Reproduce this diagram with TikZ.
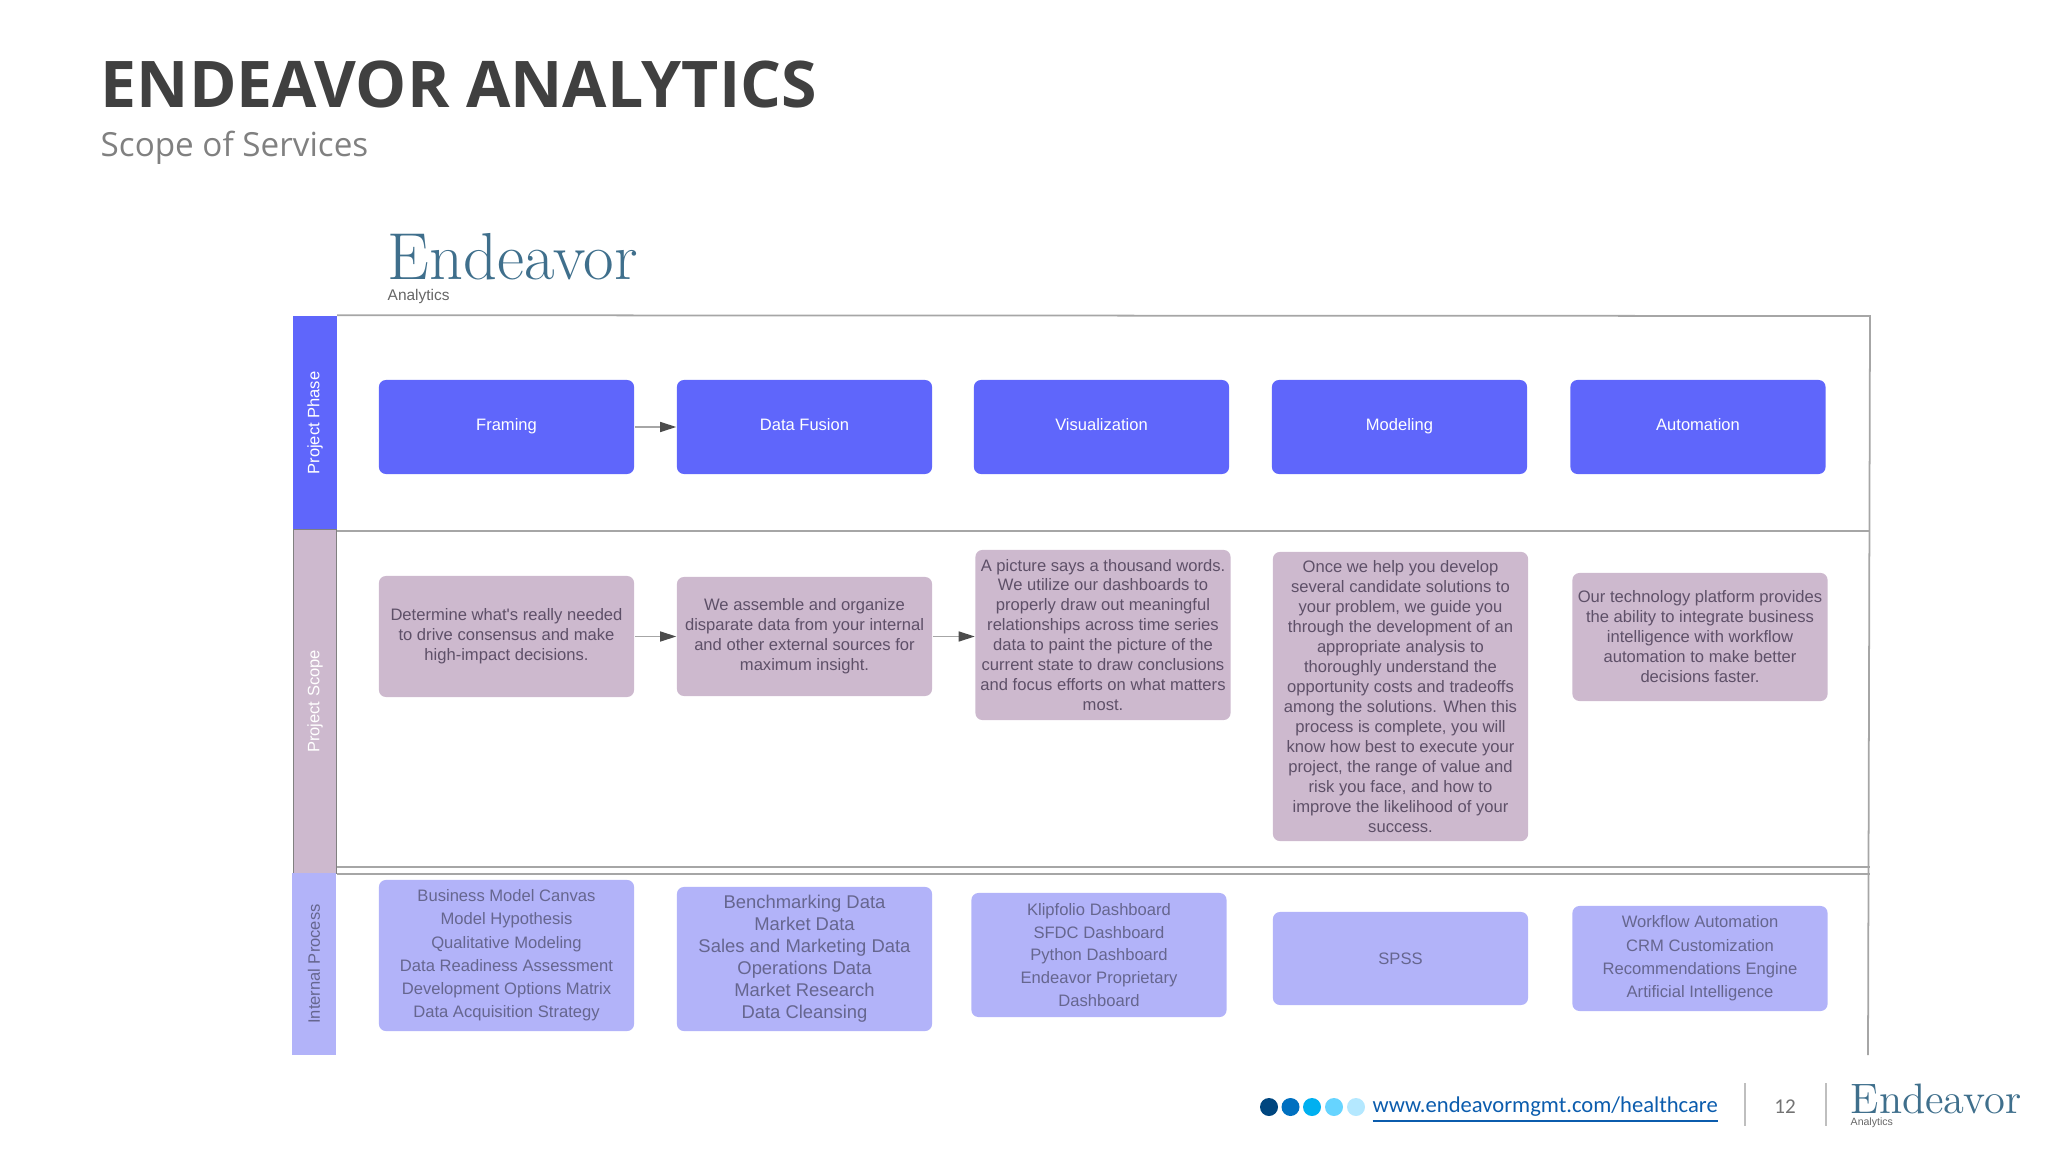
\documentclass[tikz,border=0pt]{standalone}
\usepackage{fontspec}
\usepackage{xcolor}
\usetikzlibrary{arrows.meta, positioning, calc}
\newfontfamily\bodyfont{Liberation Sans}
\newfontfamily\headfont{Open Sans}
\newfontfamily\footfont{Carlito}
\definecolor{phaseblue}{HTML}{5F66FB}
\definecolor{scopemauve}{HTML}{CDB9CE}
\definecolor{processblue}{HTML}{B2B3F9}
\definecolor{scopetext}{HTML}{5E5068}
\definecolor{processtext}{HTML}{66668F}
\definecolor{framegray}{HTML}{A6A6A6}
\definecolor{logoblue}{HTML}{3F6F8C}
\definecolor{linkblue}{HTML}{0B5CAD}
\definecolor{dotone}{HTML}{00467F}
\definecolor{dottwo}{HTML}{0070C0}
\definecolor{dotthree}{HTML}{00B0F0}
\definecolor{dotfour}{HTML}{66D4FF}
\definecolor{dotfive}{HTML}{B4E8FF}

\begin{document}
\begin{tikzpicture}[x=0.01cm, y=-0.01cm,
    lane/.style={rectangle, rotate=90, minimum height=0.43cm, inner sep=0pt, font=\bodyfont\fontsize{4.7}{5.6}\selectfont},
    box/.style={rectangle, rounded corners=0.07cm, inner sep=0pt, align=center, minimum width=2.55cm},
    phasebox/.style={box, fill=phaseblue, text=white, text height=1.5ex, text depth=1ex, font=\bodyfont\fontsize{4.7}{5.7}\selectfont},
    scopebox/.style={box, fill=scopemauve, text=scopetext, execute at end node=\vspace{1.6pt}, font=\bodyfont\fontsize{4.72}{5.68}\selectfont},
    processbox/.style={box, fill=processblue, text=processtext, font=\bodyfont\fontsize{4.72}{6.6}\selectfont},
    flow/.style={-{Triangle[length=0.16cm, width=0.1cm, color=black!70]}, framegray, line width=0.4pt},
    rule/.style={framegray, line width=0.5pt},
    dot/.style={circle, minimum size=0.18cm, inner sep=0pt},
    divider/.style={black!25, line width=0.3pt},
]
\useasboundingbox (0,0) rectangle (2048,1152);

\node[anchor=base west, inner sep=0pt, text=black!75, font=\headfont\bfseries\fontsize{18.3}{22}\selectfont] (title) at (100,108) {ENDEAVOR ANALYTICS};
\node[anchor=base west, inner sep=0pt, text=black!50, font=\headfont\fontsize{9.45}{12}\selectfont] (subtitle) at (100,157) {Scope of Services};

\node[anchor=base west, inner sep=0pt, text=logoblue, font=\fontsize{18.9}{20}\selectfont] (logo) at (387,280) {Endeavor};
\node[anchor=west, inner sep=0pt, text=black!60, font=\bodyfont\fontsize{4.4}{5}\selectfont] (logosub) at (387,297) {Analytics};

\coordinate (frameNE) at (1870,316);
\coordinate (frameSE) at (1868,1055);
\node[lane, fill=phaseblue, text=white, minimum width=2.14cm] (lanephase) at (315,423) {Project Phase};
\node[lane, fill=scopemauve, text=white, draw=black!50, line width=0.3pt, minimum width=3.43cm] (lanescope) at (315,701.5) {Project Scope};
\node[lane, fill=processblue, text=processtext, minimum width=1.82cm] (laneprocess) at (314,964) {Internal Process};

\draw[rule] (lanephase.south east) -- (frameNE) -- (frameSE);
\draw[rule] (lanephase.south west) -- (lanephase.south west -| frameNE);
\draw[rule] (lanescope.south west) -- (lanescope.south west -| frameNE);
\draw[rule] ([yshift=0.07cm]lanescope.south west) -- ([yshift=0.07cm]lanescope.south west -| frameNE);

\node[phasebox, minimum height=0.94cm] (framing) at (506.5,427) {Framing};
\node[phasebox, minimum height=0.94cm] (fusion) at (804.5,427) {Data Fusion};
\node[phasebox, minimum height=0.94cm] (visual) at (1101.5,427) {Visualization};
\node[phasebox, minimum height=0.94cm] (modeling) at (1399.5,427) {Modeling};
\node[phasebox, minimum height=0.94cm] (automation) at (1698,427) {Automation};

\node[scopebox, minimum height=1.21cm] (needed) at (506.5,636.5) {Determine what's really needed\\to drive consensus and make\\high-impact decisions.};
\node[scopebox, minimum height=1.19cm] (assemble) at (804.5,636.5) {We assemble and organize\\disparate data from your internal\\and other external sources for\\maximum insight.};
\node[scopebox, minimum height=1.70cm] (picture) at (1103,635) {A picture says a thousand words.\\We utilize our dashboards to\\properly draw out meaningful\\relationships across time series\\data to paint the picture of the\\current state to draw conclusions\\and focus efforts on what matters\\most.};
\node[scopebox, minimum height=2.89cm] (develop) at (1400.5,696.5) {Once we help you develop\\several candidate solutions to\\your problem, we guide you\\through the development of an\\appropriate analysis to\\thoroughly understand the\\opportunity costs and tradeoffs\\among the solutions. When this\\process is complete, you will\\know how best to execute your\\project, the range of value and\\risk you face, and how to\\improve the likelihood of your\\success.};
\node[scopebox, minimum height=1.28cm] (platform) at (1700,637) {Our technology platform provides\\the ability to integrate business\\intelligence with workflow\\automation to make better\\decisions faster.};

\node[processbox, minimum height=1.51cm] (canvas) at (506.5,955.5) {Business Model Canvas\\Model Hypothesis\\Qualitative Modeling\\Data Readiness Assessment\\Development Options Matrix\\Data Acquisition Strategy};
\node[processbox, minimum height=1.44cm, font=\bodyfont\fontsize{5.24}{6.26}\selectfont] (bench) at (804.5,959) {Benchmarking Data\\Market Data\\Sales and Marketing Data\\Operations Data\\Market Research\\Data Cleansing};
\node[processbox, minimum height=1.24cm, font=\bodyfont\fontsize{4.72}{6.45}\selectfont] (klipfolio) at (1099,955) {Klipfolio Dashboard\\SFDC Dashboard\\Python Dashboard\\Endeavor Proprietary\\Dashboard};
\node[processbox, minimum height=0.93cm] (spss) at (1400.5,958.5) {SPSS};
\node[processbox, minimum height=1.05cm] (workflow) at (1700,958.5) {Workflow Automation\\CRM Customization\\Recommendations Engine\\Artificial Intelligence};

\draw[flow] (framing) -- (fusion);
\draw[flow] (needed) -- (assemble);
\draw[flow] (assemble.east) -- (assemble.east -| picture.west);

\node[dot, fill=dotone] (dotA) at (1269,1107) {};
\node[dot, fill=dottwo] (dotB) at (1290.5,1107) {};
\node[dot, fill=dotthree] (dotC) at (1312,1107) {};
\node[dot, fill=dotfour] (dotD) at (1334,1107) {};
\node[dot, fill=dotfive] (dotE) at (1356,1107) {};
\node[anchor=base west, inner sep=0pt, text=linkblue, font=\footfont\fontsize{6.43}{8}\selectfont] (weblink) at (1372,1112) {\underline{www.endeavormgmt.com/healthcare}};

\coordinate (dividerAtop) at (1745,1083);
\coordinate (dividerAend) at (1745,1126);
\coordinate (dividerBtop) at (1826,1083);
\coordinate (dividerBend) at (1826,1126);
\draw[divider] (dividerAtop) -- (dividerAend);
\draw[divider] (dividerBtop) -- (dividerBend);
\node[inner sep=0pt, text=black!55, font=\footfont\fontsize{6}{7}\selectfont] (pagenum) at (1785,1107) {12};

\node[anchor=base west, inner sep=0pt, text=logoblue, font=\fontsize{12.1}{14}\selectfont] (footlogo) at (1850,1113) {Endeavor};
\node[anchor=west, inner sep=0pt, text=black!60, font=\bodyfont\fontsize{3}{4}\selectfont] (footsub) at (1850,1123) {Analytics};
\end{tikzpicture}
\end{document}
